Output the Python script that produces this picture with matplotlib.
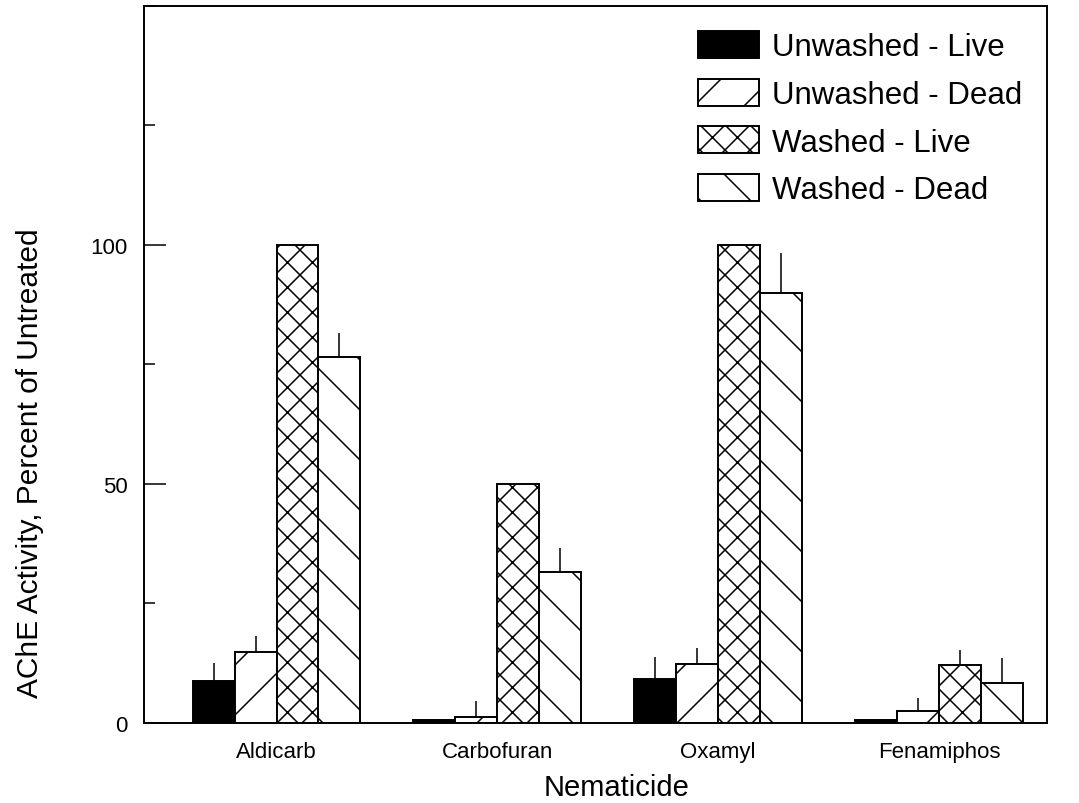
import numpy as np
import matplotlib
matplotlib.use("Agg")
import matplotlib.pyplot as plt
import matplotlib.path as mpath
import matplotlib.hatch as mhatch
from matplotlib.ticker import MultipleLocator

plt.rcParams['font.family'] = ['Liberation Sans', 'DejaVu Sans']
plt.rcParams['hatch.linewidth'] = 1.1


# sparser single diagonal hatching like the original print, finer crosshatch
def _hatch(hatchpattern, density=6):
    d = 8 if 'x' in hatchpattern else 4
    return mhatch.get_path(hatchpattern, d)


mpath.Path.hatch = staticmethod(_hatch)

# Data
nematicides = ["Aldicarb", "Carbofuran", "Oxamyl", "Fenamiphos"]
series = ["Unwashed - Live", "Unwashed - Dead", "Washed - Live", "Washed - Dead"]
unwashed_live = [8.8, 0.7, 9.2, 0.6]
unwashed_dead = [14.9, 1.3, 12.3, 2.5]
washed_live = [100.0, 50.0, 100.0, 12.1]
washed_dead = [76.6, 31.5, 90.0, 8.4]
err_unwashed_live = [3.8, 0.0, 4.6, 0.0]
err_unwashed_dead = [3.2, 3.4, 3.4, 2.7]
err_washed_live = [0.0, 0.0, 0.0, 3.2]
err_washed_dead = [5.0, 5.1, 8.3, 5.2]

values = [unwashed_live, unwashed_dead, washed_live, washed_dead]
errors = [err_unwashed_live, err_unwashed_dead, err_washed_live, err_washed_dead]
fills = ['black', 'white', 'white', 'white']
hatches = [None, '/', 'x', '\\']

fig = plt.figure(figsize=(10.79, 8.04), dpi=100)
ax = fig.add_axes([0.1335, 0.0995, 0.837, 0.892])

x = np.arange(1, len(nematicides) + 1)
width = 0.19
offsets = [-1.5, -0.5, 0.5, 1.5]

for i in range(4):
    pos = x + offsets[i] * width
    ax.bar(pos, values[i], width, color=fills[i], edgecolor='black',
           hatch=hatches[i], linewidth=1.4, label=series[i], zorder=2)
    err = np.array(errors[i])
    ax.errorbar(pos, values[i], yerr=[np.zeros_like(err), err], fmt='none',
                ecolor='black', elinewidth=1.1, capsize=0, zorder=3)

ax.set_xlim(0.4, 4.49)
ax.set_ylim(0, 150)
ax.set_xticks(x)
ax.set_xticklabels(nematicides, fontsize=16)
ax.tick_params(axis='x', length=0, pad=13)

ax.yaxis.set_minor_locator(MultipleLocator(25))
ax.set_yticks([0, 50, 100])
ax.set_yticklabels(['0', '50', '100'], fontsize=16)
ax.tick_params(axis='y', which='major', direction='in', length=16, width=1.1, pad=12)
ax.tick_params(axis='y', which='minor', direction='in', length=8, width=1.1)

for s in ax.spines.values():
    s.set_linewidth(1.4)

ax.set_xlabel("Nematicide", fontsize=21)
ax.xaxis.set_label_coords(0.523, -0.07)
ax.set_ylabel("AChE Activity, Percent of Untreated", fontsize=21.5)
ax.yaxis.set_label_coords(-0.111, 0.363)

ax.legend(loc='upper right', fontsize=22.5, frameon=False, handlelength=1.95,
          handleheight=0.95, labelspacing=0.53, handletextpad=0.4,
          borderpad=0, borderaxespad=0, bbox_to_anchor=(0.972, 0.965))

fig.savefig("out.png", dpi=100)
